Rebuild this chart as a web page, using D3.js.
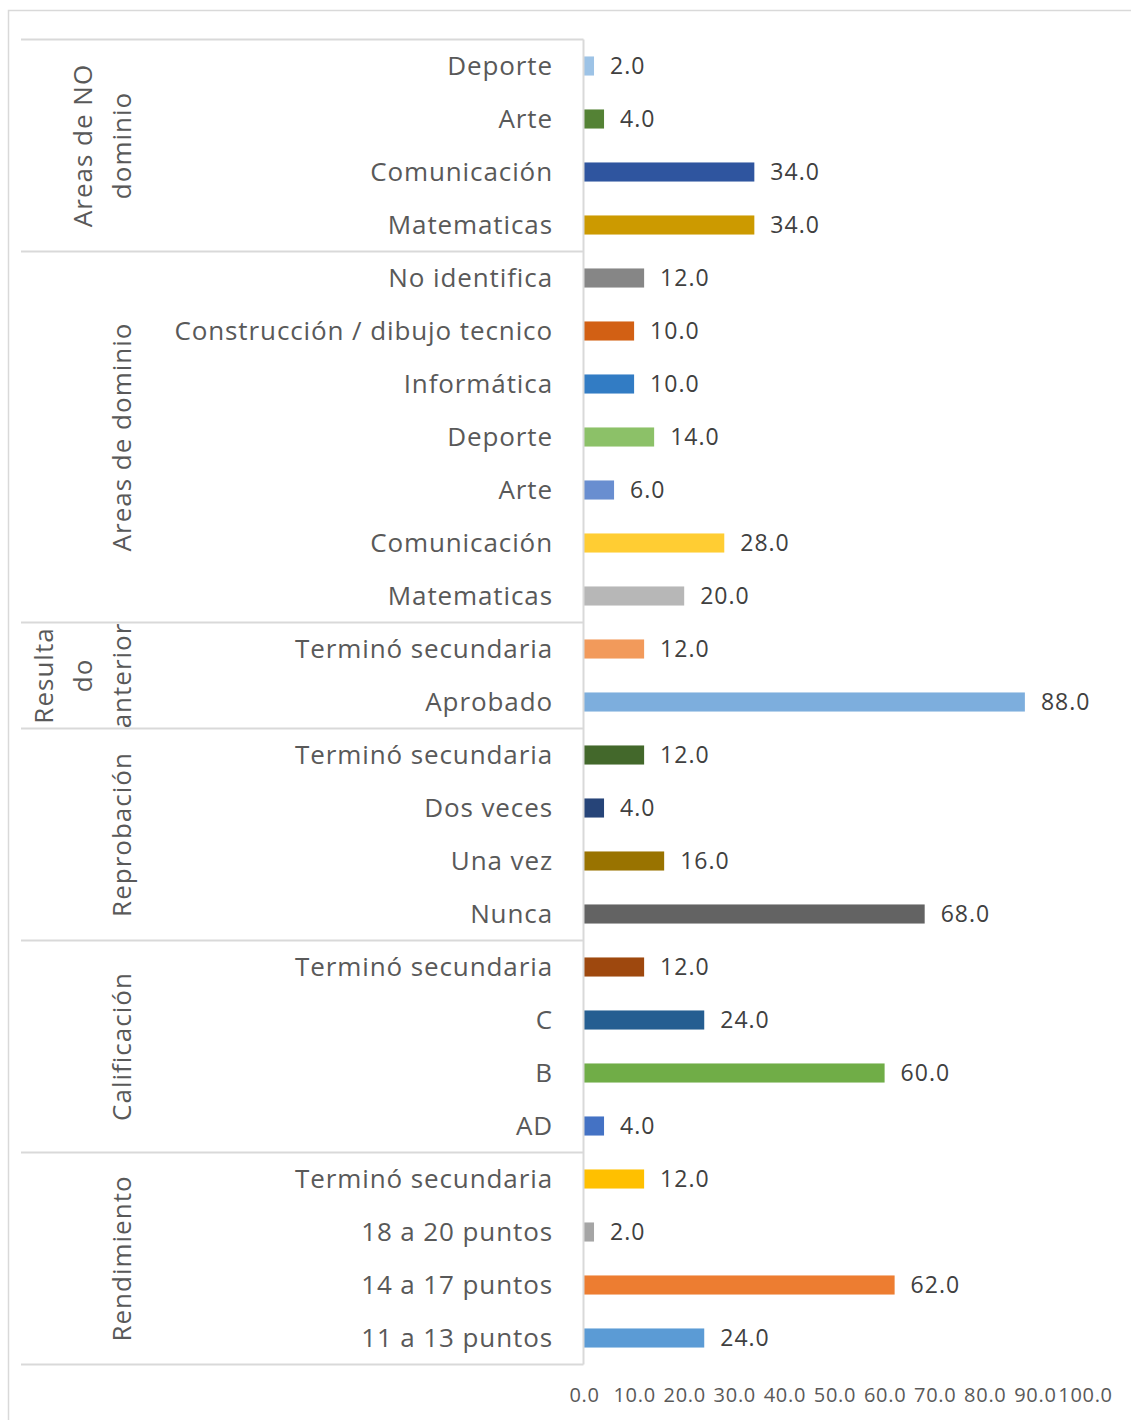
<!DOCTYPE html>
<html>
<head>
<meta charset="utf-8">
<script src="https://cdn.jsdelivr.net/npm/d3@7"></script>
<style>
  body { margin: 0; background: #fff; }
  svg text { font-family: "Open Sans", sans-serif; }
</style>
</head>
<body>
<div id="vis"></div>
<script>
// Data (top to bottom)
var categories = ["Deporte", "Arte", "Comunicación", "Matematicas",
  "No identifica", "Construcción / dibujo tecnico", "Informática", "Deporte", "Arte", "Comunicación", "Matematicas",
  "Terminó secundaria", "Aprobado",
  "Terminó secundaria", "Dos veces", "Una vez", "Nunca",
  "Terminó secundaria", "C", "B", "AD",
  "Terminó secundaria", "18 a 20 puntos", "14 a 17 puntos", "11 a 13 puntos"];
var values = [2, 4, 34, 34,
  12, 10, 10, 14, 6, 28, 20,
  12, 88,
  12, 4, 16, 68,
  12, 24, 60, 4,
  12, 2, 62, 24];
var barColors = ["#9dc3e6", "#548235", "#2f559f", "#cc9a00",
  "#868686", "#d26014", "#327cc4", "#8cc168", "#698ed0", "#ffcd33", "#b7b7b7",
  "#f29a5b", "#7daedd",
  "#43682b", "#264478", "#997300", "#636363",
  "#9e480e", "#255e91", "#70ad47", "#4472c4",
  "#ffc000", "#a5a5a5", "#ed7d31", "#5b9bd5"];
var groupLabels = [["Areas de NO", "dominio"], ["Areas de dominio"], ["Resulta", "do", "anterior"],
  ["Reprobación"], ["Calificación"], ["Rendimiento"]];
var groupSizes = [4, 7, 2, 4, 4, 4];
var ticks = [0, 10, 20, 30, 40, 50, 60, 70, 80, 90, 100];

// Layout
var width = 1131, height = 1420;
var top0 = 39.5, bottom0 = 1364.5, axisX = 583.5;

var svg = d3.select("#vis").append("svg")
  .attr("width", width)
  .attr("height", height);

// chart border
svg.append("rect")
  .attr("x", 8.5).attr("y", 10.5)
  .attr("width", 1300).attr("height", 1600)
  .attr("fill", "none").attr("stroke", "#d9d9d9").attr("stroke-width", 1.5);

var x = d3.scaleLinear().domain([0, 100]).range([584, 1085]);
var y = d3.scaleBand().domain(d3.range(values.length)).range([top0, bottom0]).paddingInner(0.64).paddingOuter(0.32);
var step = y.step();

// bars
svg.selectAll(".bar")
  .data(values)
  .enter().append("rect")
  .attr("class", "bar")
  .attr("x", x(0))
  .attr("y", function(d, i) { return y(i); })
  .attr("width", function(d) { return x(d) - x(0); })
  .attr("height", y.bandwidth())
  .attr("fill", function(d, i) { return barColors[i]; });

// value labels
svg.selectAll(".val")
  .data(values)
  .enter().append("text")
  .attr("class", "val")
  .attr("x", function(d) { return x(d) + 16; })
  .attr("y", function(d, i) { return y(i) + y.bandwidth() / 2; })
  .attr("dy", "0.36em")
  .style("font-size", "23px")
  .style("letter-spacing", "1px")
  .style("fill", "#404040")
  .text(function(d) { return d3.format(".1f")(d); });

// category labels
svg.selectAll(".cat")
  .data(categories)
  .enter().append("text")
  .attr("class", "cat")
  .attr("x", 553)
  .attr("y", function(d, i) { return y(i) + y.bandwidth() / 2; })
  .attr("dy", "0.36em")
  .attr("text-anchor", "end")
  .style("font-size", "26px")
  .style("letter-spacing", "0.9px")
  .style("fill", "#595959")
  .text(function(d) { return d; });

// group separators and labels
var grid = svg.append("g").attr("stroke", "#d9d9d9").attr("stroke-width", 2);
grid.append("line").attr("x1", axisX).attr("x2", axisX).attr("y1", top0).attr("y2", bottom0);

var start = 0;
groupSizes.forEach(function(n, gi) {
  var yTop = top0 + start * step;
  var yBot = top0 + (start + n) * step;
  if (gi === 0) grid.append("line").attr("x1", 21).attr("x2", axisX).attr("y1", yTop).attr("y2", yTop);
  grid.append("line").attr("x1", 21).attr("x2", axisX).attr("y1", yBot).attr("y2", yBot);

  var lines = groupLabels[gi];
  var cy = (yTop + yBot) / 2;
  lines.forEach(function(t, li) {
    var bx = 131 - (lines.length - 1 - li) * 39;
    svg.append("text")
      .attr("transform", "translate(" + bx + "," + cy + ") rotate(-90)")
      .attr("text-anchor", "middle")
      .style("font-size", "26px")
      .style("letter-spacing", "1px")
      .style("fill", "#595959")
      .text(t);
  });
  start += n;
});

// x axis
var axis = svg.append("g")
  .attr("transform", "translate(0,1388)")
  .call(d3.axisBottom(x).tickValues(ticks).tickSize(0).tickPadding(0).tickFormat(d3.format(".1f")));
axis.select(".domain").remove();
axis.selectAll("text")
  .attr("dy", "0.71em")
  .style("font-family", "'Open Sans', sans-serif")
  .style("font-size", "20px")
  .style("letter-spacing", "0.7px")
  .style("fill", "#595959");
</script>
</body>
</html>
